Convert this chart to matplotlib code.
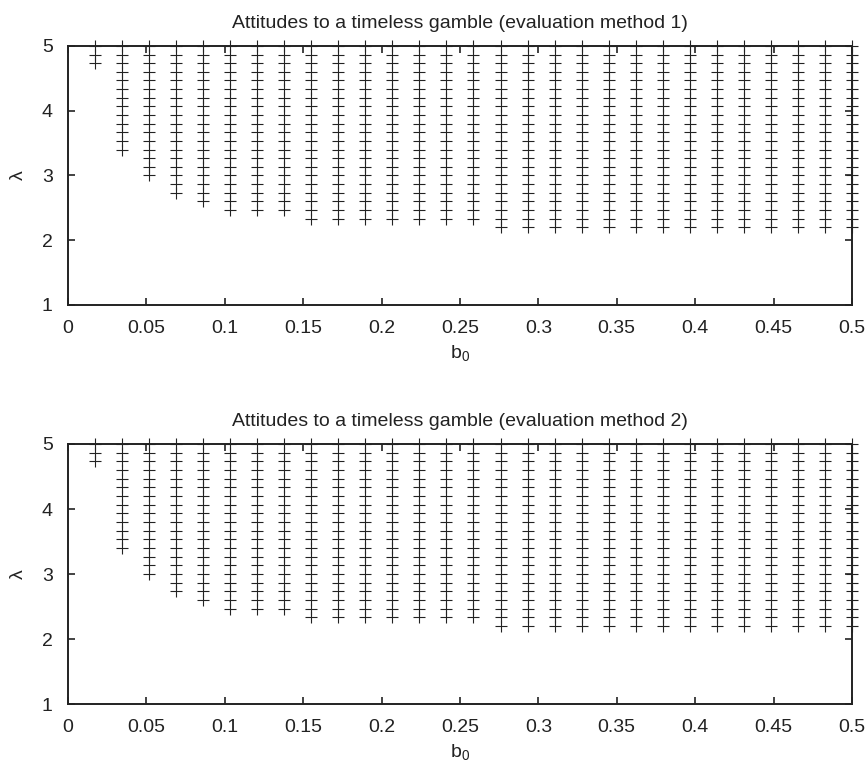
import matplotlib
matplotlib.use("Agg")
import matplotlib.pyplot as plt
import numpy as np

# b0 values of the marker columns
b0_values = [0.0172, 0.0345, 0.0517, 0.0690, 0.0862, 0.1034, 0.1207, 0.1379,
             0.1552, 0.1724, 0.1897, 0.2069, 0.2241, 0.2414, 0.2586, 0.2759,
             0.2931, 0.3103, 0.3276, 0.3448, 0.3621, 0.3793, 0.3966, 0.4138,
             0.4310, 0.4483, 0.4655, 0.4828, 0.5000]

# lambda levels where points can sit
lambda_levels = [1.000, 1.133, 1.267, 1.400, 1.533, 1.667, 1.800, 1.933,
                 2.067, 2.200, 2.333, 2.467, 2.600, 2.733, 2.867, 3.000,
                 3.133, 3.267, 3.400, 3.533, 3.667, 3.800, 3.933, 4.067,
                 4.200, 4.333, 4.467, 4.600, 4.733, 4.867, 5.000]

# lowest lambda marked in each column
lambda_min_method1 = [4.733, 3.400, 3.000, 2.733, 2.600, 2.467, 2.467, 2.467,
                      2.333, 2.333, 2.333, 2.333, 2.333, 2.333, 2.333, 2.200,
                      2.200, 2.200, 2.200, 2.200, 2.200, 2.200, 2.200, 2.200,
                      2.200, 2.200, 2.200, 2.200, 2.200]
lambda_min_method2 = [4.733, 3.400, 3.000, 2.733, 2.600, 2.467, 2.467, 2.467,
                      2.333, 2.333, 2.333, 2.333, 2.333, 2.333, 2.333, 2.200,
                      2.200, 2.200, 2.200, 2.200, 2.200, 2.200, 2.200, 2.200,
                      2.200, 2.200, 2.200, 2.200, 2.200]

titles = ["Attitudes to a timeless gamble (evaluation method 1)",
          "Attitudes to a timeless gamble (evaluation method 2)"]

plt.rcParams["font.family"] = ["Liberation Sans", "DejaVu Sans"]
plt.rcParams["mathtext.default"] = "regular"


def points_for(lambda_min):
    xs, ys = [], []
    for b0, lo in zip(b0_values, lambda_min):
        for lam in lambda_levels:
            if lam >= lo - 1e-6:
                xs.append(b0)
                ys.append(lam)
    return xs, ys


def draw_panel(ax, lambda_min, title):
    xs, ys = points_for(lambda_min)
    ax.plot(xs, ys, linestyle="none", marker="+", markersize=8,
            markeredgewidth=0.8, color="#222222", clip_on=False)
    ax.set_xlim(0, 0.5)
    ax.set_ylim(1, 5)
    ax.set_xticks([0, 0.05, 0.1, 0.15, 0.2, 0.25, 0.3, 0.35, 0.4, 0.45, 0.5])
    ax.set_xticklabels(["0", "0.05", "0.1", "0.15", "0.2", "0.25", "0.3",
                        "0.35", "0.4", "0.45", "0.5"])
    ax.set_yticks([1, 2, 3, 4, 5])
    ax.tick_params(axis="both", direction="in", length=5, width=1.2,
                   top=True, right=True, labelsize=14, colors="#222222")
    ax.tick_params(axis="x", pad=11)
    ax.tick_params(axis="y", pad=11)
    for spine in ax.spines.values():
        spine.set_linewidth(1.4)
        spine.set_color("#222222")
    ax.set_xlabel("b$_0$", fontsize=14, labelpad=4, color="#222222")
    ax.set_ylabel("λ", fontsize=14, labelpad=11, color="#222222")
    ax.set_title(title, fontsize=14, pad=13, color="#222222")


fig = plt.figure(figsize=(8.68, 7.75), dpi=100)
ax1 = fig.add_axes([0.0783, 0.6065, 0.9032, 0.3342])
ax2 = fig.add_axes([0.0783, 0.0916, 0.9032, 0.3355])
draw_panel(ax1, lambda_min_method1, titles[0])
draw_panel(ax2, lambda_min_method2, titles[1])

fig.savefig("out.png", dpi=100)
